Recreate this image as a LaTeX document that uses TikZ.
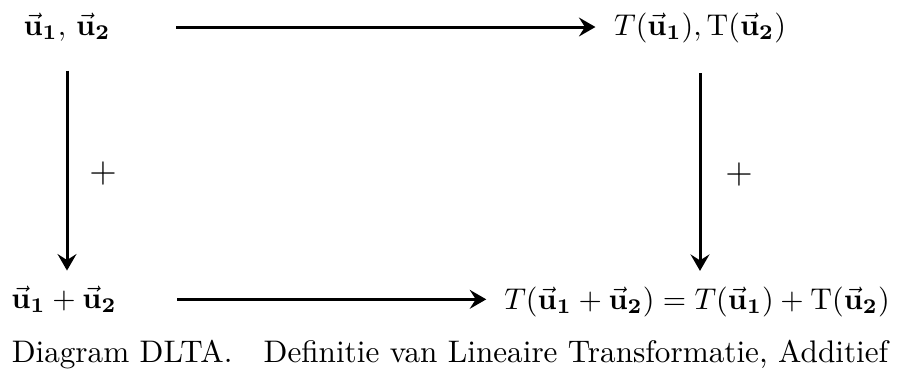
\documentclass[tikz,border=0pt]{standalone}
\usepackage{amsmath}
\usetikzlibrary{arrows.meta,positioning}
\newcommand{\uvk}[1]{\vec{\mathbf{u}}_{\mathbf{#1}}}

\begin{document}
\begin{tikzpicture}[
    x=0.3333pt, y=-0.3333pt,
    term/.style={inner sep=0pt, anchor=base, font=\fontsize{10.3}{12}\selectfont},
    link/.style={-{Stealth[length=5.5pt, width=6.3pt, inset=2pt]}, line width=1pt}
]
\useasboundingbox (0,0) rectangle (900,373);
\node[term] (pair) at (67,35) {$\uvk{1},\,\uvk{2}$};
\node[term] (images) at (700,35) {$T(\uvk{1}), \mathrm{T}(\uvk{2})$};
\node[term] (sum) at (64,308) {$\uvk{1} + \uvk{2}$};
\node[term] (imgsum) at (697,309) {$T(\uvk{1} + \uvk{2}) = T(\uvk{1}) + \mathrm{T}(\uvk{2})$};
\node[term, font=\fontsize{10.4}{12}\selectfont] (caption) at (450,362) {Diagram DLTA.\quad Definitie van Lineaire Transformatie, Additief};
\draw[link, shorten <=21.7pt, shorten >=6pt] (pair.east) -- (pair.east -| images.west);
\draw[link, shorten <=20pt, shorten >=5.8pt] (sum.east) -- (sum.east -| imgsum.west);
\draw[link, shorten <=9.7pt, shorten >=5pt] (pair.south) -- (pair.south |- sum.north)
    node[midway, xshift=12pt, yshift=-3.3pt, font=\large] (plusL) {$+$};
\draw[link, shorten <=10pt, shorten >=5pt] (images.south) -- (images.south |- imgsum.north)
    node[midway, xshift=13pt, yshift=-3.3pt, font=\large] (plusR) {$+$};
\end{tikzpicture}
\end{document}
